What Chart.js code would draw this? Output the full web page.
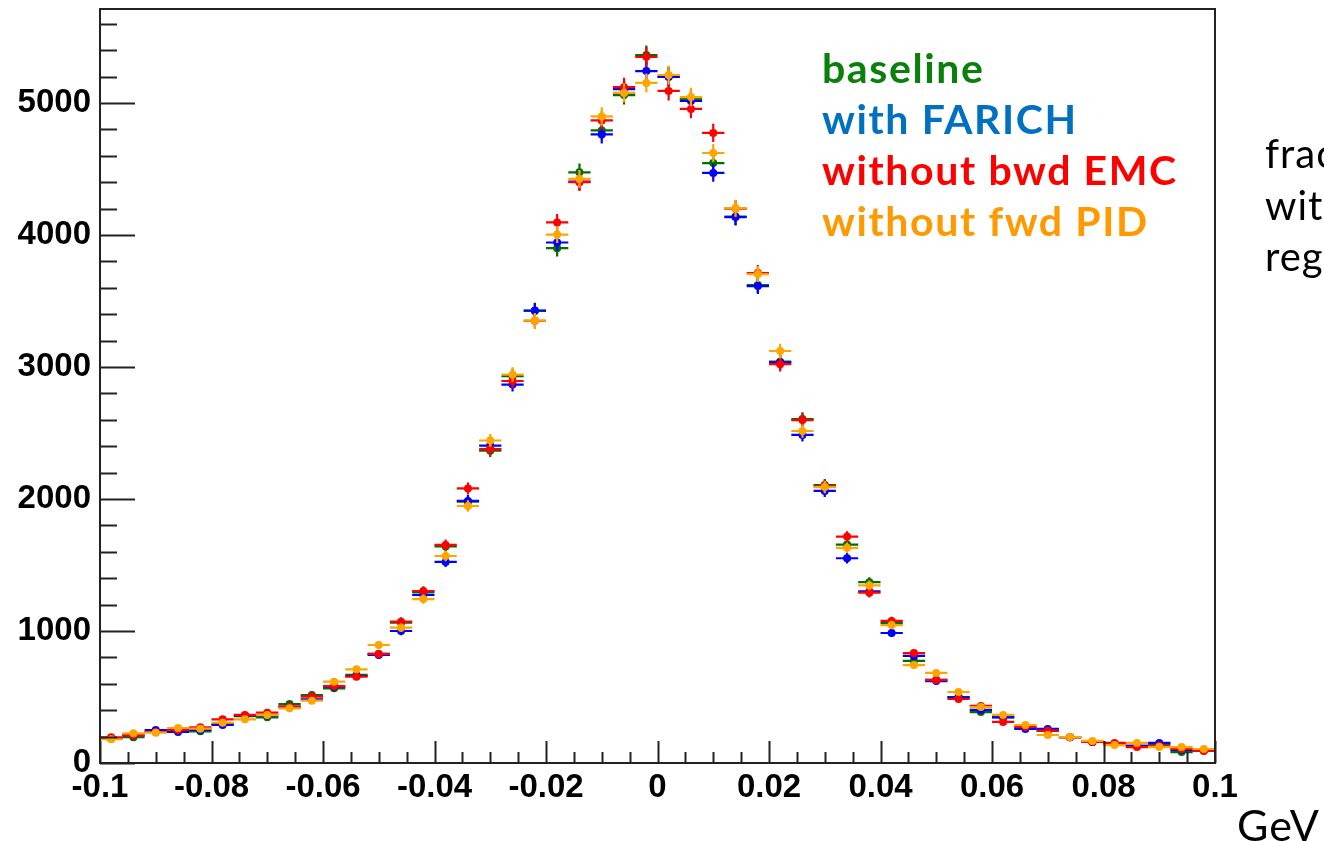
<!DOCTYPE html>
<html lang="en">
  <head>
    <meta charset="UTF-8" />
    <title>Mass difference distribution</title>
    <script src="https://cdn.jsdelivr.net/npm/chart.js"></script>
    <style>
      html, body { margin: 0; padding: 0; background: #fff; }
      #wrap { position: relative; width: 1324px; height: 841px; overflow: hidden; }
      canvas { display: block; }
      .side { position: absolute; font-family: "Lato", sans-serif; font-size: 40px; letter-spacing: 1px; color: #000; white-space: nowrap; line-height: 1; }
    </style>
  </head>
  <body>
    <div id="wrap">
      <canvas id="chart" width="1324" height="841"></canvas>
      <div class="side" style="left:1265px; top:133px;">frac</div>
      <div class="side" style="left:1265px; top:185px;">wit</div>
      <div class="side" style="left:1265px; top:236px;">reg</div>
      <div class="side" style="left:1237px; top:803px; font-size:43px;">GeV</div>
    </div>

    <script>
      // binning: 50 bins from -0.1 to 0.1 GeV
      const binLow = -0.1;
      const binWidth = 0.004;
      const binCenters = Array.from({ length: 50 }, (_, i) => +(binLow + (i + 0.5) * binWidth).toFixed(3));

      const seriesNames = ["baseline", "with FARICH", "without bwd EMC", "without fwd PID"];

      const baseline = [
        185, 195, 235, 245, 240, 295, 355, 346, 447, 515,
        566, 667, 826, 1063, 1295, 1640, 1980, 2366, 2930, 3425,
        3900, 4475, 4792, 5060, 5363, 5200, 5030, 4545, 4140, 3621,
        3040, 2606, 2106, 1655, 1370, 1060, 773, 630, 500, 386,
        348, 265, 243, 195, 160, 145, 129, 144, 83, 95,
      ];
      const withFarich = [
        185, 210, 250, 235, 250, 288, 360, 360, 427, 482,
        578, 659, 818, 1000, 1273, 1523, 1985, 2405, 2867, 3428,
        3943, 4405, 4762, 5105, 5242, 5197, 5015, 4470, 4136, 3613,
        3035, 2485, 2061, 1551, 1300, 985, 811, 621, 498, 402,
        345, 258, 258, 195, 160, 145, 130, 152, 100, 95,
      ];
      const withoutBwdEmc = [
        195, 210, 235, 250, 270, 331, 364, 381, 427, 503,
        583, 654, 826, 1071, 1303, 1652, 2080, 2378, 2894, 3350,
        4095, 4400, 4868, 5120, 5350, 5091, 4955, 4773, 4200, 3712,
        3021, 2598, 2098, 1715, 1290, 1076, 833, 629, 485, 432,
        311, 273, 245, 195, 159, 152, 121, 130, 106, 91,
      ];
      const withoutFwdPid = [
        180, 225, 230, 265, 260, 305, 331, 364, 414, 472,
        616, 710, 894, 1025, 1242, 1568, 1947, 2443, 2943, 3352,
        4003, 4425, 4898, 5076, 5152, 5212, 5045, 4621, 4203, 3704,
        3121, 2515, 2090, 1630, 1345, 1045, 742, 682, 538, 424,
        364, 288, 212, 197, 167, 136, 152, 121, 121, 106,
      ];

      const markerColors = ["#006e00", "#0000ff", "#ff0000", "#ffa500"];
      const legendColors = ["#0a800a", "#0070c0", "#ff0000", "#ff9900"];
      const allSeries = [baseline, withFarich, withoutBwdEmc, withoutFwdPid];

      const yMax = 5712;

      // error bars: bin width horizontally, sqrt(N) vertically
      const errorBars = {
        id: "errorBars",
        beforeDatasetDraw(chart, args) {
          const ds = chart.data.datasets[args.index];
          const xs = chart.scales.x;
          const ys = chart.scales.y;
          const ctx = chart.ctx;
          ctx.save();
          ctx.beginPath();
          ctx.rect(chart.chartArea.left, chart.chartArea.top, chart.chartArea.width, chart.chartArea.height);
          ctx.clip();
          ctx.strokeStyle = ds.backgroundColor;
          ctx.lineWidth = 2.2;
          ds.data.forEach((p) => {
            const err = Math.sqrt(p.y);
            const x0 = xs.getPixelForValue(p.x - binWidth / 2);
            const x1 = xs.getPixelForValue(p.x + binWidth / 2);
            const xc = xs.getPixelForValue(p.x);
            const yc = ys.getPixelForValue(p.y);
            ctx.beginPath();
            ctx.moveTo(x0, yc);
            ctx.lineTo(x1, yc);
            ctx.moveTo(xc, ys.getPixelForValue(p.y - err));
            ctx.lineTo(xc, ys.getPixelForValue(p.y + err));
            ctx.stroke();
          });
          ctx.restore();
        },
      };

      // ROOT style frame with ticks pointing inwards
      const frame = {
        id: "frame",
        afterDraw(chart) {
          const { ctx, chartArea: a } = chart;
          const xs = chart.scales.x;
          const ys = chart.scales.y;
          ctx.save();
          ctx.strokeStyle = "#222";
          ctx.lineWidth = 2;
          ctx.strokeRect(a.left, a.top, a.width, a.height);
          ctx.beginPath();
          for (let v = 0; v <= yMax; v += 200) {
            const y = Math.round(ys.getPixelForValue(v)) + 0.5;
            const len = v % 1000 === 0 ? 35 : 17;
            ctx.moveTo(a.left, y);
            ctx.lineTo(a.left + len, y);
          }
          for (let k = -20; k <= 20; k++) {
            const x = Math.round(xs.getPixelForValue(k * 0.005)) + 0.5;
            const len = k % 4 === 0 ? 22 : 11;
            ctx.moveTo(x, a.bottom);
            ctx.lineTo(x, a.bottom - len);
          }
          ctx.stroke();

          // legend text
          ctx.font = "bold 41px Lato, sans-serif";
          ctx.letterSpacing = "1.6px";
          ctx.textBaseline = "alphabetic";
          ctx.textAlign = "left";
          seriesNames.forEach((name, i) => {
            ctx.fillStyle = legendColors[i];
            ctx.fillText(name, 822, 83 + i * 51);
          });
          ctx.restore();
        },
      };

      const tickFont = { family: "Liberation Sans, Arial, sans-serif", size: 33, weight: "bold" };

      new Chart(document.getElementById("chart"), {
        type: "scatter",
        data: {
          datasets: allSeries.map((vals, i) => ({
            label: seriesNames[i],
            data: vals.map((v, j) => ({ x: binCenters[j], y: v })),
            backgroundColor: markerColors[i],
            borderColor: markerColors[i],
            pointRadius: 4,
            pointBorderWidth: 0,
            pointHoverRadius: 4,
            order: 3 - i,
          })),
        },
        options: {
          responsive: false,
          animation: false,
          events: [],
          layout: { padding: { left: 0, top: 9, right: 109, bottom: 0 } },
          plugins: { legend: { display: false }, tooltip: { enabled: false } },
          scales: {
            x: {
              type: "linear",
              min: -0.1,
              max: 0.1,
              grid: { display: false, drawTicks: false },
              border: { display: false },
              afterFit: (s) => {
                s.height = 78;
                s.paddingLeft = 0;
                s.paddingRight = 0;
              },
              afterBuildTicks: (s) => {
                s.ticks = [];
                for (let k = -5; k <= 5; k++) s.ticks.push({ value: k * 0.02 });
              },
              ticks: {
                autoSkip: false,
                maxRotation: 0,
                padding: 5,
                color: "#000",
                font: tickFont,
                callback: (v) => String(Math.round(v * 100) / 100),
              },
            },
            y: {
              type: "linear",
              min: 0,
              max: yMax,
              grid: { display: false, drawTicks: false },
              border: { display: false },
              afterFit: (s) => {
                s.width = 100;
                s.paddingTop = 0;
                s.paddingBottom = 0;
              },
              afterBuildTicks: (s) => {
                s.ticks = [];
                for (let v = 0; v <= 5000; v += 1000) s.ticks.push({ value: v });
              },
              ticks: {
                padding: 9,
                color: "#000",
                font: tickFont,
                callback: (v) => String(v),
              },
            },
          },
        },
        plugins: [errorBars, frame],
      });
    </script>
  </body>
</html>
